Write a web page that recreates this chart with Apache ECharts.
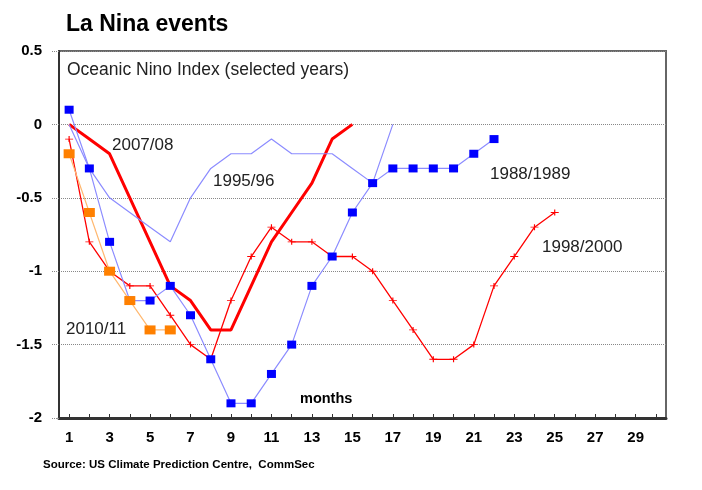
<!DOCTYPE html>
<html>
<head>
<meta charset="utf-8">
<script src="https://cdn.jsdelivr.net/npm/echarts@6/dist/echarts.min.js"></script>
<style>html,body{margin:0;padding:0;background:#fff;}#c{width:702px;height:490px;}</style>
</head>
<body>
<div id="c"></div>
<script>
const months = ['1','2','3','4','5','6','7','8','9','10','11','12','13','14','15','16','17','18','19','20','21','22','23','24','25','26','27','28','29','30'];
const yTicks = [-2, -1.5, -1, -0.5, 0, 0.5];
const s1988 = [0.1,-0.3,-0.8,-1.2,-1.2,-1.1,-1.3,-1.6,-1.9,-1.9,-1.7,-1.5,-1.1,-0.9,-0.6,-0.4,-0.3,-0.3,-0.3,-0.3,-0.2,-0.1];
const s1995 = [0,-0.3,-0.5,-0.6,-0.7,-0.8,-0.5,-0.3,-0.2,-0.2,-0.1,-0.2,-0.2,-0.2,-0.3,-0.4,0];
const s1998 = [-0.1,-0.8,-1.0,-1.1,-1.1,-1.3,-1.5,-1.6,-1.2,-0.9,-0.7,-0.8,-0.8,-0.9,-0.9,-1.0,-1.2,-1.4,-1.6,-1.6,-1.5,-1.1,-0.9,-0.7,-0.6];
const s2007 = [0,-0.1,-0.2,-0.5,-0.8,-1.1,-1.2,-1.4,-1.4,-1.1,-0.8,-0.6,-0.4,-0.1,0];
const s2010 = [-0.2,-0.6,-1.0,-1.2,-1.4,-1.4];
const labels = ['2007/08','1995/96','1988/1989','1998/2000','2010/11'];

const chart = echarts.init(document.getElementById('c'), null, {renderer:'canvas'});
const F = 'Arial, "Liberation Sans", sans-serif';
const plus = 'path://M0,5L10,5M5,0L5,10';
function txt(t, x, y, size, weight, color){
  return {type:'text', z:100, style:{text:t, x:x, y:y, font: weight+' '+size+'px '+F, fill:color||'#222', align:'left', verticalAlign:'middle', textVerticalAlign:'middle'}};
}
chart.setOption({
  animation:false,
  backgroundColor:'#fff',
  grid:{left:59, right:36, top:51, bottom:72, show:true, borderColor:'#666', borderWidth:2, backgroundColor:'transparent'},
  xAxis:{type:'category', data:months, boundaryGap:true,
    axisLine:{show:true, onZero:false, lineStyle:{color:'#333', width:3}},
    axisTick:{show:true, inside:true, length:4, interval:0, alignWithLabel:true, lineStyle:{color:'#333', width:1}},
    axisLabel:{interval:1, margin:12, fontSize:15, fontWeight:'bold', color:'#000', fontFamily:'"Liberation Sans Narrow", Arial, sans-serif'},
    splitLine:{show:false}},
  yAxis:{type:'value', min:yTicks[0], max:yTicks[yTicks.length-1], interval:0.5,
    axisLine:{show:true, onZero:false, lineStyle:{color:'#333', width:2}},
    axisTick:{show:true, length:7, lineStyle:{color:'#888', type:'dotted'}},
    axisLabel:{margin:17, fontSize:15, fontWeight:'bold', color:'#000', fontFamily:F,
      formatter:function(v){return String(Math.round(v*10)/10);}},
    splitLine:{show:true, lineStyle:{color:'#888', type:'dotted', width:1}}},
  series:[
    {name:'2007/08', type:'line', data:s2007, symbol:'none', lineStyle:{color:'#ff0000', width:3}, z:2},
    {name:'1998/2000', type:'line', data:s1998, symbol:plus, symbolSize:[8,6], showSymbol:true,
      itemStyle:{color:'#ff0000', borderColor:'#ff0000', borderWidth:1}, lineStyle:{color:'#ff0000', width:1.3}, z:3},
    {name:'1995/96', type:'line', data:s1995, symbol:'none', lineStyle:{color:'#8c8cff', width:1.2}, z:4},
    {name:'1988/1989', type:'line', data:s1988, symbol:'rect', symbolSize:[9,8], showSymbol:true,
      itemStyle:{color:'#0000ff', borderWidth:0}, lineStyle:{color:'#8c8cff', width:1.2}, z:5},
    {name:'2010/11', type:'line', data:s2010, symbol:'rect', symbolSize:[11,9], showSymbol:true,
      itemStyle:{color:'#ff8000', borderWidth:0}, lineStyle:{color:'#ffb870', width:1.2}, z:6}
  ],
  graphic:[
    txt('La Nina events', 66, 25, 23, 'bold', '#000'),
    txt('Oceanic Nino Index (selected years)', 67, 70, 17.5, 'normal', '#222'),
    txt(labels[0], 112, 145, 17, 'normal'),
    txt(labels[1], 213, 181, 17, 'normal'),
    txt(labels[2], 490, 174, 17, 'normal'),
    txt(labels[3], 542, 247, 17, 'normal'),
    txt(labels[4], 66, 329, 17, 'normal'),
    txt('months', 300, 399, 14.5, 'bold', '#000'),
    txt('Source: US Climate Prediction Centre,  CommSec', 43, 465, 11.5, 'bold', '#000')
  ]
});
</script>
</body>
</html>
